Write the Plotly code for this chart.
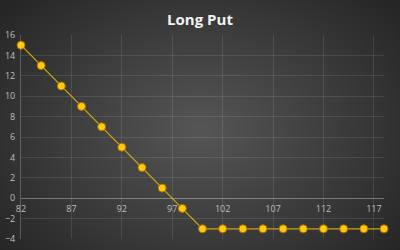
import base64, struct, zlib
import numpy as np
import plotly.graph_objects as go

# Data
strike_prices = [82, 84, 86, 88, 90, 92, 94, 96, 98, 100, 102, 104, 106, 108, 110, 112, 114, 116, 118]
profit = [15, 13, 11, 9, 7, 5, 3, 1, -1, -3, -3, -3, -3, -3, -3, -3, -3, -3, -3]
x_ticks = [82, 87, 92, 97, 102, 107, 112, 117]
y_ticks = [-4, -2, 0, 2, 4, 6, 8, 10, 12, 14, 16]

W, H = 400, 250

# radial gradient background as PNG data URI
yy, xx = np.mgrid[0:H, 0:W]
d = np.sqrt(((xx - 200) / 260.0) ** 2 + ((yy - 130) / 190.0) ** 2)
d = np.clip(d, 0, 1)
c_in, c_out = 86.0, 38.0
v = (c_in + (c_out - c_in) * d).astype(np.uint8)
img = np.stack([v, v, v], axis=-1)
raw = b"".join(b"\x00" + img[r].tobytes() for r in range(H))
def chunk(t, data):
    c = struct.pack(">I", len(data)) + t + data
    return c + struct.pack(">I", zlib.crc32(t + data) & 0xffffffff)
png = b"\x89PNG\r\n\x1a\n" + chunk(b"IHDR", struct.pack(">IIBBBBB", W, H, 8, 2, 0, 0, 0)) \
    + chunk(b"IDAT", zlib.compress(raw, 9)) + chunk(b"IEND", b"")
uri = "data:image/png;base64," + base64.b64encode(png).decode()

L, R, T, B = 21, 16, 35, 11
PW, PH = W - L - R, H - T - B

fig = go.Figure()
fig.add_trace(go.Scatter(
    x=strike_prices, y=profit, mode="lines+markers",
    line=dict(color="#c9a414", width=1.2),
    marker=dict(size=8, color="#ffc90e", line=dict(color="#a87000", width=1)),
    cliponaxis=False, showlegend=False,
))

fig.update_layout(
    width=W, height=H,
    margin=dict(l=L, r=R, t=T, b=B, autoexpand=False),
    paper_bgcolor="#2e2e2e",
    plot_bgcolor="rgba(0,0,0,0)",
    images=[dict(source=uri, xref="paper", yref="paper", x=-L/PW, y=1+T/PH,
                 sizex=W/PW, sizey=H/PH, sizing="stretch", layer="below",
                 xanchor="left", yanchor="top")],
    title=dict(text="<b>Long Put</b>", x=0.5, xanchor="center", y=0.92, yanchor="middle",
               font=dict(family="Open Sans, DejaVu Sans, sans-serif", size=15, color="#f2f2f2")),
    font=dict(family="Open Sans, DejaVu Sans, sans-serif", size=9, color="#bfbfbf"),
)
fig.update_xaxes(
    range=[82, 118], tickvals=x_ticks, ticktext=[str(t) for t in x_ticks],
    showgrid=True, gridcolor="rgba(255,255,255,0.10)", gridwidth=1,
    zeroline=False, showline=True, linecolor="rgba(255,255,255,0.25)", linewidth=1,
    anchor="free", position=4/20, ticks="", ticklabelstandoff=2, automargin=False,
    tickfont=dict(size=9, color="#bfbfbf"),
)
fig.update_yaxes(
    range=[-4, 16], tickvals=y_ticks,
    showgrid=True, gridcolor="rgba(255,255,255,0.10)", gridwidth=1,
    zeroline=False, showline=True, linecolor="rgba(255,255,255,0.22)", linewidth=1,
    ticks="", ticklabelstandoff=3, automargin=False,
    tickfont=dict(size=9, color="#bfbfbf"),
)

fig.write_html("out.html")
